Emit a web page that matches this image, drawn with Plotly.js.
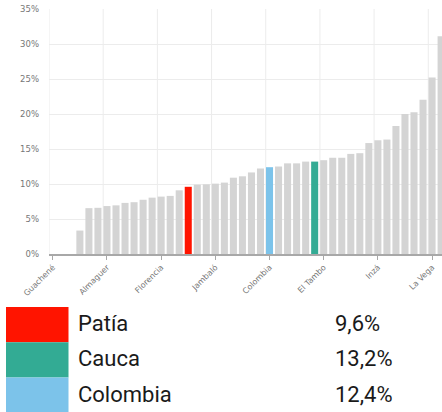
<!DOCTYPE html>
<html>
<head>
<meta charset="utf-8">
<script src="https://cdn.plot.ly/plotly-3.0.1.min.js"></script>
<style>
  html, body { margin: 0; padding: 0; background: #fff; }
  #chart { width: 442px; height: 412px; }
</style>
</head>
<body>
<div id="chart"></div>
<script>
// ---- data ----
const values = [0, 0, 0, 3.35, 6.55, 6.6, 6.85, 6.95, 7.3, 7.4, 7.75, 8.05,
  8.2, 8.3, 9.1, 9.6, 9.9, 9.95, 10.05, 10.2, 10.9, 11.1, 11.65, 12.2,
  12.4, 12.5, 12.95, 12.95, 13.2, 13.2, 13.4, 13.75, 13.75, 14.3, 14.4, 15.85,
  16.25, 16.35, 18.3, 20.0, 20.25, 22.05, 25.2, 31.1];
const tickIndex = [0, 6, 12, 18, 24, 30, 36, 42];
const tickLabels = ['Guachené', 'Almaguer', 'Florencia', 'Jambaló', 'Colombia', 'El Tambo', 'Inzá', 'La Vega'];
const highlightIndex = [15, 29, 24];
const legendNames = ['Patía', 'Cauca', 'Colombia'];
const legendValues = ['9,6%', '13,2%', '12,4%'];
const legendColors = ['#ff1400', '#33ab94', '#7cc3ea'];
const yTicks = [0, 5, 10, 15, 20, 25, 30, 35];

// ---- build ----
const barGray = '#d4d4d4';
const xs = values.map((v, i) => i);
const colors = values.map((v, i) => {
  const k = highlightIndex.indexOf(i);
  return k >= 0 ? legendColors[k] : barGray;
});

const W = 442, H = 412;
const L = 49, T = 9, B = 254, R = 442;
const pxX = X => (X - L) / (R - L);
const pxY = Y => (B - Y) / (B - T);

const shapes = [];
// vertical gridlines (drawn slightly left of each labelled category)
tickIndex.forEach(t => {
  shapes.push({type: 'line', xref: 'x', yref: 'paper', x0: t - 0.42, x1: t - 0.42, y0: 0, y1: 1,
    line: {color: '#ececec', width: 1}, layer: 'below'});
});
// legend boxes
const rowTop = 307, rowH = 35.2;
legendNames.forEach((n, i) => {
  shapes.push({type: 'rect', xref: 'paper', yref: 'paper',
    x0: pxX(6), x1: pxX(68.5), y0: pxY(rowTop + i * rowH), y1: pxY(rowTop + (i + 1) * rowH + (i === 2 ? 2 : 0)),
    fillcolor: legendColors[i], line: {width: 0}});
});
const annotations = [];
legendNames.forEach((n, i) => {
  const yc = pxY(rowTop + i * rowH + rowH / 2 - 1);
  annotations.push({xref: 'paper', yref: 'paper', x: pxX(76), y: yc, xanchor: 'left', yanchor: 'middle',
    text: n, showarrow: false, font: {family: 'Roboto', size: 22, color: '#1a1a1a'}});
  annotations.push({xref: 'paper', yref: 'paper', x: pxX(333), y: yc, xanchor: 'left', yanchor: 'middle',
    text: legendValues[i], showarrow: false, font: {family: 'Roboto', size: 22, color: '#1a1a1a'}});
});

const trace = {
  type: 'bar', x: xs, y: values,
  marker: {color: colors, line: {width: 0}},
  hoverinfo: 'y'
};

const layout = {
  width: W, height: H,
  margin: {l: L, r: W - R, t: T, b: H - B, pad: 0},
  paper_bgcolor: '#fff', plot_bgcolor: '#fff',
  showlegend: false,
  bargap: 0.22,
  xaxis: {
    range: [-0.42, 43.1], tickmode: 'array', tickvals: tickIndex, ticktext: tickLabels,
    tickangle: -45, showgrid: false, zeroline: false,
    showline: true, linecolor: '#a8a8a8', linewidth: 1.5,
    ticks: 'outside', ticklen: 4, tickcolor: '#a8a8a8', tickwidth: 1,
    tickfont: {family: 'DejaVu Sans', size: 8, color: '#777'}
  },
  yaxis: {
    range: [0, 35], tickmode: 'array', tickvals: yTicks, ticktext: yTicks.map(v => v + '%'),
    showgrid: true, gridcolor: '#ececec', zeroline: false, showline: false,
    ticks: '', ticklabelstandoff: 9,
    tickfont: {family: 'DejaVu Sans', size: 8.5, color: '#777'}
  },
  shapes: shapes,
  annotations: annotations
};

Plotly.newPlot('chart', [trace], layout, {displayModeBar: false, staticPlot: true});
</script>
</body>
</html>
